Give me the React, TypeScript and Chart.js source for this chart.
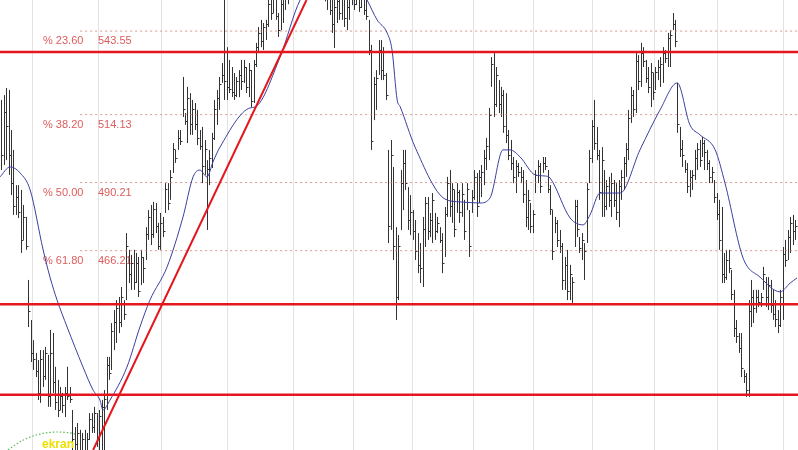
import React, { useEffect, useRef } from "react";
import { Chart, registerables } from "chart.js";
Chart.register(...registerables);

// ---- price bars (one per trading day, index = day number) ----
const highs = [
  519.3,521.0,523.5,522.8,508.7,501.7,489.3,489.3,487.6,482.3,
  478.1,455.9,441.8,434.7,430.2,427.7,431.2,431.2,432.3,429.5,
  438.3,437.2,425.3,420.7,418.2,416.1,418.2,425.3,418.2,410.1,
  404.1,405.5,403.1,402.0,403.1,402.0,409.0,409.0,411.2,409.0,
  410.1,413.6,417.1,428.8,428.8,440.7,445.3,448.8,449.9,453.4,
  448.8,472.4,466.5,464.7,466.5,465.4,464.0,466.5,464.0,474.5,
  480.5,482.3,483.4,483.0,476.0,479.5,478.1,490.0,490.0,494.6,
  504.1,501.7,508.7,508.7,527.4,514.7,523.9,521.7,519.3,518.2,
  515.8,508.7,509.8,505.2,498.1,501.7,507.7,519.3,522.8,527.4,
  532.3,558.0,537.9,533.4,530.9,528.8,527.4,529.8,533.4,533.4,
  530.9,532.3,529.8,533.4,539.4,545.0,547.5,546.4,547.5,555.5,
  558.0,559.8,556.3,549.9,555.5,558.0,562,564,566,567,
  569,571,572,574,575,576,575,573,572,570,
  568,566,565.1,561.5,561.5,558.0,556.3,558.0,559.8,558.0,
  556.3,556.3,558.0,561.5,559.8,561.5,558.0,559.8,558.0,555.0,
  547.5,538.7,527.4,529.8,540.4,540.4,537.9,528.8,501.7,505.2,
  495.7,474.5,471.7,494.6,501.7,501.7,488.6,485.8,480.5,477.0,
  472.4,468.9,478.1,485.1,485.1,479.5,486.5,479.5,478.1,474.5,
  472.4,481.6,492.2,494.6,490.0,487.6,490.0,487.6,490.0,484.1,
  490.0,480.5,487.6,494.6,493.6,494.6,496.4,501.7,505.9,516.5,
  534.4,535.8,530.9,526.3,523.9,522.8,521.7,508.7,505.2,499.2,
  498.1,497.1,495.7,494.6,491.1,487.6,483.0,480.5,494.6,498.1,
  497.1,499.2,499.2,494.6,489.3,480.5,478.1,477.0,473.5,468.9,
  464.0,466.5,461.2,456.9,484.1,484.1,471.0,472.4,468.9,490.0,
  501.7,512.2,519.3,509.8,501.7,502.7,494.6,491.1,492.2,493.6,
  491.1,490.0,491.1,494.6,499.2,504.1,515.8,523.9,522.8,535.8,
  535.1,539.4,537.9,533.4,530.9,532.3,528.8,530.9,533.4,534.4,
  537.9,536.9,542.9,543.9,549.9,547.5,525.3,509.8,505.2,498.1,
  497.1,494.6,494.6,501.7,504.1,505.2,506.3,505.2,501.7,498.1,
  495.7,491.1,486.5,484.1,481.6,465.4,466.5,466.5,459.4,452.4,
  441.8,437.2,437.2,424.2,423.1,448.8,455.9,452.4,452.4,452.4,
  451.3,460.5,456.9,456.9,455.9,452.4,448.8,445.3,452.4,467.5,
  470.0,473.5,478.1,478.8,477.0,
];

const lows = [
  494.6,496.4,498.1,492.9,485.8,478.8,478.8,477.7,465.4,470.0,
  466.5,439.3,427.0,424.2,421.7,413.6,412.6,418.2,420.7,411.2,
  411.2,416.1,410.1,407.6,410.1,409.0,407.6,413.6,412.6,396.0,
  394.2,394.2,392.5,392.5,394.2,392.5,399.5,402.0,402.0,397.1,
  394.2,394.2,396.0,410.1,420.7,424.2,431.2,433.7,437.2,439.3,
  441.8,448.8,454.8,452.4,452.4,454.8,449.9,454.1,454.8,462.9,
  470.0,468.2,470.7,472.4,466.5,466.5,471.0,479.5,480.5,484.1,
  493.6,497.1,501.7,503.4,513.3,510.5,504.1,507.0,507.0,508.7,
  503.4,501.7,490.0,492.9,473.5,489.3,495.3,505.2,510.5,515.8,
  525.3,519.3,519.3,521.7,520.3,519.3,520.3,520.3,522.8,525.3,
  521.7,520.3,516.8,518.2,530.9,535.8,537.9,536.9,540.4,545.0,
  547.5,549.9,547.5,541.5,543.9,546.4,551,553,555,556,
  558,560,562,563,565,566,564,561,560,558,
  556,555,554.0,551.0,549.2,542.9,537.6,546.4,547.5,547.5,
  545.0,543.9,547.5,552.7,551.0,552.7,550.3,551.7,549.2,547.5,
  535.1,501.7,512.2,515.8,528.1,526.3,526.3,519.3,468.9,473.5,
  462.9,441.8,448.8,473.5,480.5,487.6,473.5,471.7,470.0,462.9,
  458.3,454.8,453.4,467.5,470.0,471.0,468.9,470.0,472.4,468.9,
  458.3,464.0,478.1,478.1,476.0,471.0,479.5,476.0,478.1,470.0,
  480.5,464.0,479.5,484.1,478.1,483.0,485.1,489.3,494.6,498.1,
  523.9,513.3,516.8,514.7,513.3,507.7,504.1,498.1,494.6,490.0,
  486.5,492.2,490.0,483.0,474.5,473.5,472.4,472.4,486.5,490.0,
  486.5,493.6,494.6,486.5,478.8,462.9,472.4,467.5,465.4,452.4,
  452.4,448.8,448.8,447.8,467.5,471.0,465.4,462.9,455.9,468.9,
  490.0,497.1,501.7,498.1,484.1,478.1,478.1,480.5,481.6,478.1,
  481.6,477.0,474.5,484.1,487.6,492.2,498.1,511.2,513.3,514.7,
  522.8,523.9,530.9,525.3,521.7,516.8,519.3,522.8,526.3,523.9,
  525.3,532.3,530.9,530.9,543.9,537.9,507.7,499.2,495.7,493.6,
  486.5,485.1,487.6,491.1,494.6,495.7,499.2,494.6,494.6,490.0,
  490.0,483.0,477.0,466.5,454.8,454.8,455.9,458.3,448.8,435.8,
  433.7,430.2,421.7,419.6,414.7,414.7,439.3,440.7,444.3,446.4,
  446.4,452.4,446.4,445.3,444.3,441.8,439.3,437.2,439.3,441.8,
  460.5,462.9,465.4,468.2,470.0,
];

const closes = [
  500,515,510,500,490,482,485,480,470,478,
  468,445,430,428,424,416,428,422,430,415,
  430,420,413,410,415,412,416,415,414,400,
  398,402,396,400,396,400,407,404,409,400,
  408,411,414,426,423,438,441,446,441,450,
  444,468,458,462,455,462,452,464,460,472,
  478,472,481,475,468,476,473,488,483,492,
  502,499,506,505,516,512,520,511,516,511,
  506,503,496,502,495,499,506,516,520,525,
  528,526,524,523,522,521,526,528,526,531,
  524,530,519,532,538,543,540,545,546,553,
  550,556,549,544,553,556,560,558,564,560,
  567,569,565,572,568,570,566,563,569,561,
  559,563,557,558,551,546,552,554,550,555,
  548,552,556,559,553,558,552,556,551,549,
  537,505,525,527,537,530,528,521,475,500,
  468,450,468,490,497,490,477,480,473,466,
  461,460,474,483,473,477,484,473,476,470,
  462,479,490,482,488,474,487,480,486,473,
  488,468,485,492,482,492,494,499,503,514,
  532,518,528,518,521,510,507,500,497,492,
  496,494,492,486,478,484,475,479,493,496,
  489,497,496,488,481,466,476,470,468,456,
  461,452,458,455,482,474,467,470,466,488,
  499,510,504,500,487,498,482,489,484,490,
  484,480,489,492,497,502,513,521,516,533,
  526,536,533,527,524,529,522,529,531,532,
  536,534,541,542,546,540,511,502,500,495,
  489,492,493,499,502,498,504,501,497,492,
  494,485,479,470,458,457,463,460,451,439,
  436,432,425,422,417,445,450,446,450,448,
  450,458,450,454,447,444,442,440,450,465,
  463,471,476,473,475,
];

// ---- moving average ----
const maX = [
  -0.5,3.6,7.7,11.8,17.1,19.9,22.8,26.9,33.4,37.5,40.3,41.5,44.4,51.3,56.6,60.7,67.7,74.2,78.3,81.1,
  84.0,86.4,89.3,101.6,103.6,113.8,122.0,134.2,144.4,149.3,153.4,157.5,159.5,161.6,162.8,168.9,181.1,187.3,195.4,199.5,
  204.8,207.7,211.8,217.9,222.0,224.0,232.2,237.5,240.3,244.4,252.6,260.7,268.9,275.9,281.1,285.2,291.4,295.4,302.8,309.7,
  317.9,322.0,324.8,
];
const maY = [
  492.2,495.7,493.6,487.6,466.5,456.9,448.8,439.3,425.2,417.1,413.6,410.1,413.6,425.2,439.3,448.8,460.5,478.1,492.2,494.6,
  492.2,497.4,502.7,516.5,516.8,534.4,554.5,565,561.5,554.5,547.5,542.9,536.9,519.3,517.0,502.7,484.4,483.4,483.0,484.8,
  501.7,501.7,499.2,492.9,492.5,491.8,477.7,475.3,478.8,486.5,486.5,501.7,515.8,525.3,510.5,507.0,501.7,490.0,463.6,456.9,
  451.7,454.8,456.6,
];

// ---- Fibonacci retracement levels ----
const fibPercents = ["23.60", "38.20", "50.00", "61.80"];
const fibLevels = [543.55, 514.13, 490.21, 466.21];
const fibStart = 32.2;

// ---- drawn support / resistance lines and trend line ----
const supportLevels = [536.2, 447.3, 415.5];
const trendX = [37.5, 124.6];
const trendY = [396, 554.5];

// ---- month separators (day index) ----
const gridX = [12.6, 39.5, 65.2, 92.2, 119.1, 143.6, 167.7, 192.6, 217.1, 241.1, 266.4, 292.2, 319.1];

const X_MIN = -0.5;
const X_MAX = 325.2;
const Y_MIN = 396;
const Y_MAX = 554.5;

const barsPlugin = {
  id: "ohlcBars",
  beforeDatasetsDraw(chart: any) {
    const { ctx, chartArea } = chart;
    const xs = chart.scales.x;
    const ys = chart.scales.y;
    ctx.save();
    ctx.beginPath();
    ctx.rect(chartArea.left, chartArea.top, chartArea.right - chartArea.left, chartArea.bottom - chartArea.top);
    ctx.clip();

    // vertical grid
    ctx.strokeStyle = "#e3e3e3";
    ctx.lineWidth = 1;
    gridX.forEach((g) => {
      const px = Math.round(xs.getPixelForValue(g)) + 0.5;
      ctx.beginPath();
      ctx.moveTo(px, chartArea.top);
      ctx.lineTo(px, chartArea.bottom);
      ctx.stroke();
    });

    // fib labels
    ctx.font = '11px "Liberation Sans", Arial, sans-serif';
    ctx.fillStyle = "#dd5c5c";
    ctx.textBaseline = "middle";
    ctx.textAlign = "left";
    fibLevels.forEach((lv, k) => {
      const py = ys.getPixelForValue(lv) + 10;
      ctx.fillText("% " + fibPercents[k], 43, py);
      ctx.fillText(lv.toFixed(2), 98, py);
    });

    // HLC bars
    ctx.strokeStyle = "#333333";
    ctx.lineWidth = 1;
    ctx.beginPath();
    highs.forEach((h, i) => {
      const px = Math.round(xs.getPixelForValue(i)) + 0.5;
      const pyH = ys.getPixelForValue(h);
      const pyL = ys.getPixelForValue(lows[i]);
      ctx.moveTo(px, pyH);
      ctx.lineTo(px, pyL);
      const pc = Math.round(ys.getPixelForValue(closes[i])) + 0.5;
      ctx.moveTo(px, pc);
      ctx.lineTo(px + 2, pc);
    });
    ctx.stroke();
    ctx.restore();
  },
  afterDraw(chart: any) {
    const { ctx } = chart;
    ctx.save();
    // small logo bottom-left
    ctx.setLineDash([1.5, 2]);
    ctx.strokeStyle = "#5cb85c";
    ctx.lineWidth = 1.2;
    ctx.beginPath();
    ctx.moveTo(8, 450);
    ctx.quadraticCurveTo(38, 426, 76, 434);
    ctx.stroke();
    ctx.setLineDash([]);
    ctx.font = 'bold 12px "Liberation Sans", Arial, sans-serif';
    ctx.fillStyle = "#eee000";
    ctx.textBaseline = "alphabetic";
    ctx.fillText("ekran", 42, 448);
    ctx.restore();
  },
};

export default function App() {
  const ref = useRef<HTMLCanvasElement | null>(null);
  useEffect(() => {
    if (!ref.current) return;
    const datasets: any[] = [];
    fibLevels.forEach((lv) => {
      datasets.push({
        data: [{ x: fibStart, y: lv }, { x: X_MAX, y: lv }],
        borderColor: "rgba(205,120,110,0.75)",
        borderWidth: 1,
        borderDash: [2, 3],
        pointRadius: 0,
        order: 5,
      });
    });
    datasets.push({
      data: maX.map((v, i) => ({ x: v, y: maY[i] })),
      borderColor: "#3b3f9e",
      borderWidth: 1,
      pointRadius: 0,
      cubicInterpolationMode: "monotone",
      order: 3,
    });
    supportLevels.forEach((lv) => {
      datasets.push({
        data: [{ x: X_MIN, y: lv }, { x: X_MAX, y: lv }],
        borderColor: "#e3171d",
        borderWidth: 2.5,
        pointRadius: 0,
        order: 1,
      });
    });
    datasets.push({
      data: [{ x: trendX[0], y: trendY[0] }, { x: trendX[1], y: trendY[1] }],
      borderColor: "#e3171d",
      borderWidth: 2,
      pointRadius: 0,
      order: 1,
    });

    const chart = new Chart(ref.current, {
      type: "line",
      data: { datasets },
      options: {
        animation: false,
        responsive: false,
        maintainAspectRatio: false,
        layout: { padding: 0 },
        scales: {
          x: { type: "linear", min: X_MIN, max: X_MAX, display: false },
          y: { type: "linear", min: Y_MIN, max: Y_MAX, display: false },
        },
        plugins: { legend: { display: false }, tooltip: { enabled: false } },
        elements: { point: { radius: 0 } },
      },
      plugins: [barsPlugin],
    } as any);
    return () => chart.destroy();
  }, []);

  return (
    <div style={{ position: "fixed", left: 0, top: 0, width: 798, height: 450, background: "#ffffff" }}>
      <canvas ref={ref} width={798} height={450} style={{ display: "block" }} />
    </div>
  );
}
